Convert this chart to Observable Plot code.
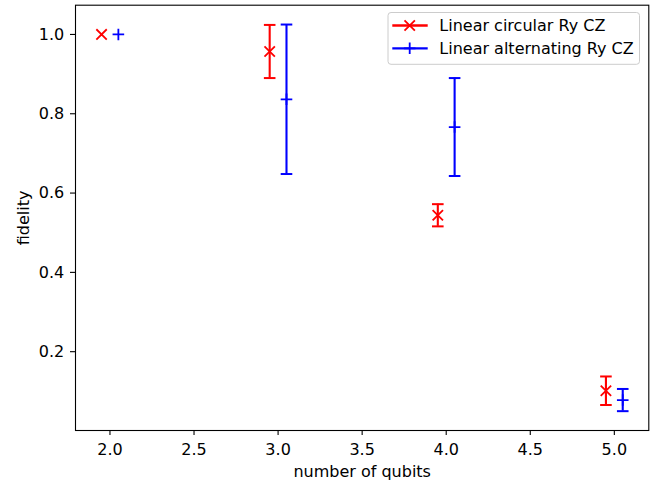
<!DOCTYPE html>
<html><head><meta charset="utf-8">
<script src="https://cdn.jsdelivr.net/npm/d3@7"></script>
<script src="https://cdn.jsdelivr.net/npm/@observablehq/plot@0.6"></script>
<style>
body{margin:0;background:#fff;font-family:"DejaVu Sans",sans-serif;}
#wrap{position:relative;width:663px;height:486px;}
#legend{position:absolute;left:0;top:0;pointer-events:none;}
</style></head><body><div id="wrap"></div>
<script>
// ---- data ----
const qubits = [2, 3, 4, 5];
const seriesNames = ["Linear circular Ry CZ", "Linear alternating Ry CZ"];
const seriesColors = ["red", "blue"];
const seriesOffsets = [-0.05, 0.05];
const circularFidelity = [1.0, 0.957, 0.544, 0.1015];
const circularErr = [0, 0.067, 0.028, 0.036];
const alternatingFidelity = [1.0, 0.8365, 0.7665, 0.078];
const alternatingErr = [0, 0.1885, 0.1235, 0.028];
const xTicks = [2.0, 2.5, 3.0, 3.5, 4.0, 4.5, 5.0];
const yTicks = [0.2, 0.4, 0.6, 0.8, 1.0];

const seriesValues = [circularFidelity, alternatingFidelity];
const seriesErrs = [circularErr, alternatingErr];
const rows = [];
seriesNames.forEach((name, s) => {
  qubits.forEach((q, i) => {
    rows.push({series: name, s, x: q + seriesOffsets[s], y: seriesValues[s][i], err: seriesErrs[s][i],
      lo: seriesValues[s][i] - seriesErrs[s][i], hi: seriesValues[s][i] + seriesErrs[s][i]});
  });
});
const withErr = rows.filter(d => d.err > 0);

// matplotlib-like 5% margins
function pad(ext) { const r = ext[1] - ext[0]; return [ext[0] - 0.05 * r, ext[1] + 0.05 * r]; }
const xDomain = pad(d3.extent(rows, d => d.x));
const yDomain = pad([d3.min(rows, d => d.lo), d3.max(rows, d => d.hi)]);

const FS = 16;
// custom stroke symbols
const symX = {draw(ctx) { const r = 5.2; ctx.moveTo(-r, -r); ctx.lineTo(r, r); ctx.moveTo(-r, r); ctx.lineTo(r, -r); }};
const symPlus = {draw(ctx) { const r = 5.8; ctx.moveTo(-r, 0); ctx.lineTo(r, 0); ctx.moveTo(0, -r); ctx.lineTo(0, r); }};
const symCap = {draw(ctx) { const r = 5.8; ctx.moveTo(-r, 0); ctx.lineTo(r, 0); }};
const markerSyms = [symX, symPlus];

const marks = [
  Plot.frame({stroke: "black", strokeWidth: 1.1}),
  Plot.axisX({ticks: xTicks, tickFormat: d3.format(".1f"), tickSize: 5, tickPadding: 8, fontSize: FS, strokeWidth: 1.1, label: null}),
  Plot.axisY({ticks: yTicks, tickFormat: d3.format(".1f"), tickSize: 5, tickPadding: 6.3, fontSize: FS, strokeWidth: 1.1, label: null}),
  Plot.text(["fidelity"], {frameAnchor: "left", dx: -52, rotate: -90, textAnchor: "middle", lineAnchor: "middle", fontSize: FS, fill: "black"}),
  Plot.text(["number of qubits"], {frameAnchor: "bottom", dy: 41, textAnchor: "middle", lineAnchor: "middle", fontSize: FS, fill: "black"})
];
seriesNames.forEach((name, s) => {
  const eb = withErr.filter(d => d.s === s);
  const pts = rows.filter(d => d.s === s);
  marks.push(
    Plot.ruleX(eb, {x: "x", y1: "lo", y2: "hi", stroke: seriesColors[s], strokeWidth: 2.1}),
    Plot.dot(eb, {x: "x", y: "lo", symbol: symCap, r: 3, fill: "none", stroke: seriesColors[s], strokeWidth: 2}),
    Plot.dot(eb, {x: "x", y: "hi", symbol: symCap, r: 3, fill: "none", stroke: seriesColors[s], strokeWidth: 2}),
    Plot.dot(pts, {x: "x", y: "y", symbol: markerSyms[s], r: 3, fill: "none", stroke: seriesColors[s], strokeWidth: 1.8})
  );
});

const chart = Plot.plot({
  width: 663, height: 486,
  marginLeft: 75, marginRight: 14.7, marginTop: 4.7, marginBottom: 56,
  x: {domain: xDomain},
  y: {domain: yDomain},
  style: {fontFamily: "DejaVu Sans", fontSize: FS + "px", color: "black", background: "white"},
  marks
});
const wrap = document.getElementById("wrap");
wrap.appendChild(chart);

// legend overlay
const ns = "http://www.w3.org/2000/svg";
const lg = document.createElementNS(ns, "svg");
lg.setAttribute("id", "legend");
lg.setAttribute("width", 663); lg.setAttribute("height", 486);
const box = document.createElementNS(ns, "rect");
Object.entries({x: 388, y: 12.5, width: 251.5, height: 51.8, rx: 3, fill: "white", "fill-opacity": 0.8, stroke: "#cccccc", "stroke-width": 1}).forEach(([k, v]) => box.setAttribute(k, v));
lg.appendChild(box);
const rowY = [25.5, 48.3];
seriesNames.forEach((name, s) => {
  const cy = rowY[s];
  const g = document.createElementNS(ns, "g");
  const ln = document.createElementNS(ns, "line");
  Object.entries({x1: 392.3, x2: 427.7, y1: cy, y2: cy, stroke: seriesColors[s], "stroke-width": 2.3}).forEach(([k, v]) => ln.setAttribute(k, v));
  g.appendChild(ln);
  const mk = document.createElementNS(ns, "path");
  const p = d3.path();
  markerSyms[s].draw(p);
  mk.setAttribute("d", p.toString());
  mk.setAttribute("transform", `translate(409.7,${cy})`);
  mk.setAttribute("stroke", seriesColors[s]); mk.setAttribute("stroke-width", 1.8); mk.setAttribute("fill", "none");
  g.appendChild(mk);
  const tx = document.createElementNS(ns, "text");
  tx.setAttribute("x", 439.3); tx.setAttribute("y", cy + 5.6);
  tx.setAttribute("font-family", "DejaVu Sans"); tx.setAttribute("font-size", FS); tx.setAttribute("fill", "black");
  tx.textContent = name;
  g.appendChild(tx);
  lg.appendChild(g);
});
wrap.appendChild(lg);
</script>
</body></html>
